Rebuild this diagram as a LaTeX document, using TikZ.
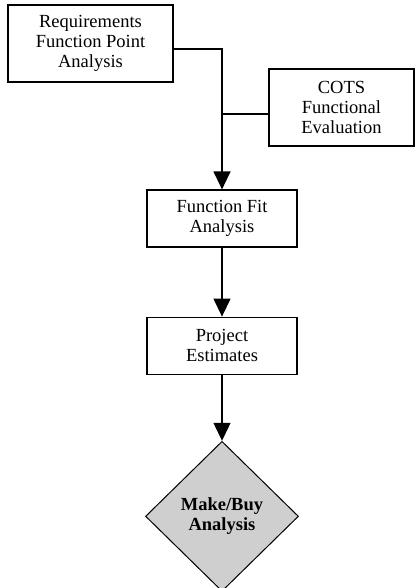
\documentclass[tikz,border=0pt]{standalone}
\usepackage{fontspec}
\setmainfont{Liberation Serif}
\usetikzlibrary{shapes.geometric,arrows.meta,positioning}

\begin{document}
\begin{tikzpicture}[x=1pt, y=-1pt, node distance=68pt,
        font=\fontsize{18.5}{20}\selectfont,
        block/.style={rectangle, draw, line width=1.2pt, align=center, inner sep=0pt},
        decision/.style={diamond, draw, line width=1pt, fill=black!19, align=center,
            font=\fontsize{18.5}{20}\selectfont\bfseries, inner sep=0pt,
            minimum width=153pt, minimum height=150pt},
        flow/.style={line width=1.3pt, -{Triangle[width=17pt, length=18pt]}},
        link/.style={line width=1.3pt}]
        \useasboundingbox (0,0) rectangle (415,588);

        \node[block, minimum width=165pt, minimum height=77pt] (reqfp) at (90.5,43.5) {Requirements\\Function Point\\Analysis};
        \node[block, minimum width=145pt, minimum height=77pt] (cots) at (341.5,107.5) {COTS\\Functional\\Evaluation};
        \node[block, minimum width=150pt, minimum height=57pt] (fitan) at (222,218.5) {Function Fit\\Analysis};
        \node[block, minimum width=150pt, minimum height=57pt, below=69pt of fitan] (estim) {Project\\Estimates};
        \node[decision, below=66pt of estim] (makebuy) {Make/Buy\\Analysis};

        \draw[flow] ([yshift=-5.5pt]reqfp.east) -| (fitan.north);
        \draw[link] ([yshift=-6.5pt]cots.west) -- ([yshift=-6.5pt]cots.west -| fitan.north);
        \draw[flow] (fitan) -- (estim);
        \draw[flow] (estim) -- (makebuy);
    \end{tikzpicture}
\end{document}
